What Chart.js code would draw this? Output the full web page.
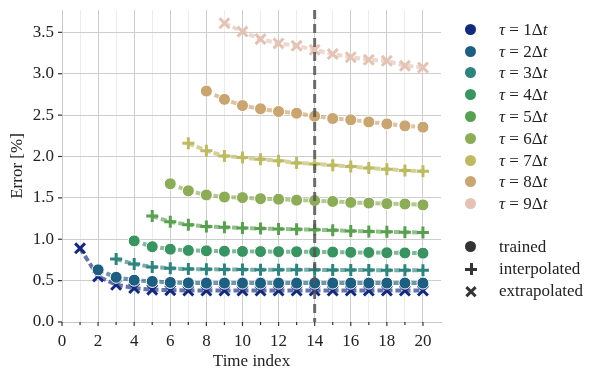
<!DOCTYPE html>
<html>
<head>
<meta charset="utf-8">
<script src="https://cdn.jsdelivr.net/npm/chart.js@4.4.1/dist/chart.umd.min.js"></script>
<style>
body{margin:0;background:#fff;}
#wrap{position:relative;width:601px;height:379px;}
#legend{position:absolute;left:0;top:0;width:601px;height:379px;pointer-events:none;font-family:"Liberation Serif",serif;font-size:17px;color:#222;}
.item{position:absolute;left:460px;height:20px;line-height:20px;white-space:nowrap;}
.item span.txt{position:absolute;left:39px;top:0;}
.mk{position:absolute;left:5px;top:4px;width:12px;height:12px;}
.dot{border-radius:50%;width:11px;height:11px;}
.bar{position:absolute;background:#333;}
</style>
</head>
<body>
<div id="wrap">
<canvas id="chart" width="601" height="379"></canvas>
<div id="legend"></div>
</div>
<script>

// time index of every step
const times=[1,2,3,4,5,6,7,8,9,10,11,12,13,14,15,16,17,18,19,20];

// tau values (in steps of delta t), each series starts at time index = tau
const taus=[1,2,3,4,5,6,7,8,9];

const tau1=[0.89,0.55,0.45,0.41,0.39,0.385,0.38,0.38,0.38,0.38,0.38,0.38,0.38,0.38,0.38,0.38,0.38,0.38,0.38,0.38];
const tau2=[0.63,0.54,0.505,0.49,0.478,0.472,0.47,0.47,0.47,0.47,0.47,0.47,0.47,0.47,0.47,0.47,0.47,0.47,0.47];
const tau3=[0.76,0.70,0.665,0.648,0.64,0.637,0.635,0.633,0.632,0.631,0.63,0.63,0.629,0.628,0.627,0.626,0.625,0.624];
const tau4=[0.98,0.91,0.88,0.865,0.86,0.856,0.853,0.851,0.85,0.849,0.847,0.845,0.842,0.84,0.837,0.835,0.832];
const tau5=[1.28,1.21,1.175,1.155,1.145,1.135,1.13,1.125,1.12,1.115,1.11,1.10,1.095,1.09,1.085,1.08];
const tau6=[1.67,1.585,1.535,1.51,1.503,1.49,1.484,1.472,1.467,1.457,1.445,1.437,1.43,1.426,1.415];
const tau7=[2.16,2.07,2.005,1.987,1.967,1.947,1.922,1.91,1.895,1.878,1.86,1.847,1.832,1.822];
const tau8=[2.79,2.69,2.615,2.576,2.543,2.523,2.487,2.459,2.443,2.418,2.394,2.37,2.354];
const tau9=[3.61,3.51,3.418,3.366,3.337,3.289,3.237,3.2,3.168,3.156,3.096,3.075];

const series=[tau1,tau2,tau3,tau4,tau5,tau6,tau7,tau8,tau9];

// which kind of point each tau is
const kinds=["extrapolated","trained","interpolated","trained","interpolated","trained","interpolated","trained","extrapolated"];
const kindNames=["trained","interpolated","extrapolated"];

const colors=["#13297b","#1e5e80","#2e837c","#3a9462","#58a04f","#8cac58","#bdba63","#c9a571","#e4c2b4"];

// last trained time index
const splitTime=14;

const yTicks=[0,0.5,1,1.5,2,2.5,3,3.5];

const pointStyles={trained:"circle",interpolated:"cross",extrapolated:"crossRot"};

function fade(hex,a){
let r=parseInt(hex.slice(1,3),16),g=parseInt(hex.slice(3,5),16),b=parseInt(hex.slice(5,7),16);
return "rgba("+r+","+g+","+b+","+a+")";
}

let datasets=series.map((vals,i)=>{
let start=taus[i];
let kind=kinds[i];
let style=pointStyles[kind];
return {
label:"τ = "+taus[i]+"Δt",
data:vals.map((v,j)=>({x:times[start-1+j],y:v})),
borderColor:fade(colors[i],0.65),
borderWidth:4,
borderDash:[6,3],
tension:0,
fill:false,
order:9-i,
pointStyle:style,
pointRadius:style=="circle"?6:(style=="cross"?6:7),
pointHoverRadius:6,
pointBackgroundColor:colors[i],
pointBorderColor:style=="circle"?"#ffffff":colors[i],
pointBorderWidth:style=="circle"?1:3
};
});

const font={family:"'Liberation Serif', serif",size:17};

// little tick marks, long at the labelled ones
const tickMarks={
id:"tickMarks",
afterDraw(c){
let ctx=c.ctx,a=c.chartArea,xs=c.scales.x,ys=c.scales.y;
ctx.save();
ctx.strokeStyle="#333";
ctx.lineWidth=1.2;
xs.ticks.forEach(t=>{
let px=xs.getPixelForValue(t.value);
let len=t.value%2==0?4:3;
ctx.beginPath();ctx.moveTo(px,a.bottom);ctx.lineTo(px,a.bottom+len);ctx.stroke();
});
ys.ticks.forEach(t=>{
let py=ys.getPixelForValue(t.value);
ctx.beginPath();ctx.moveTo(a.left-4,py);ctx.lineTo(a.left,py);ctx.stroke();
});
ctx.restore();
}
};

const splitLine={
id:"splitLine",
afterDatasetsDraw(c){
let ctx=c.ctx,a=c.chartArea;
let px=c.scales.x.getPixelForValue(splitTime);
ctx.save();
ctx.strokeStyle="rgba(85,85,85,0.85)";
ctx.lineWidth=3;
ctx.setLineDash([9,5]);
ctx.beginPath();ctx.moveTo(px,a.top);ctx.lineTo(px,a.bottom);ctx.stroke();
ctx.restore();
}
};

new Chart(document.getElementById("chart"),{
type:"line",
data:{datasets:datasets},
options:{
responsive:false,
animation:false,
layout:{padding:{left:0,right:160,top:10,bottom:0}},
plugins:{legend:{display:false},tooltip:{enabled:false}},
scales:{
x:{
type:"linear",
min:0,
max:21,
afterBuildTicks(s){s.ticks=[0].concat(times).map(v=>({value:v}));},
afterFit(s){s.height=57;s.paddingLeft=0;s.paddingRight=0;},
ticks:{font:font,color:"#222",padding:9,maxRotation:0,autoSkip:false,
callback:v=>v%2==0?String(v):""},
grid:{drawTicks:false,color:ctx=>ctx.tick&&ctx.tick.value%2==0?"#cdcdcd":"#ececec",lineWidth:1},
border:{color:"#c8c8c8"},
title:{display:true,text:"Time index",font:{family:"'Liberation Serif', serif",size:17},color:"#222",padding:{top:0,bottom:7}}
},
y:{
min:0,
max:3.77,
afterBuildTicks(s){s.ticks=yTicks.map(v=>({value:v}));},
afterFit(s){s.width=62;s.paddingTop=0;s.paddingBottom=0;},
ticks:{font:font,color:"#222",padding:8,callback:v=>v.toFixed(1)},
grid:{drawTicks:false,color:"#cdcdcd",lineWidth:1},
border:{color:"#c8c8c8"},
title:{display:true,text:"Error [%]",font:{family:"'Liberation Serif', serif",size:17},color:"#222",padding:{top:7,bottom:0}}
}
}
},
plugins:[tickMarks,splitLine]
});

// legend on the right
let legend=document.getElementById("legend");
let rowY=29.7;
taus.forEach((t,i)=>{
let d=document.createElement("div");
d.className="item";
d.style.top=(rowY+i*21.8-10)+"px";
d.innerHTML="<div class='mk dot' style='background:"+colors[i]+"'></div><span class='txt'><i>τ</i> = "+t+"Δ<i>t</i></span>";
legend.appendChild(d);
});
kindNames.forEach((k,i)=>{
let d=document.createElement("div");
d.className="item";
d.style.top=(247.3+i*21.8-10)+"px";
let mk;
if(k=="trained") mk="<div class='mk dot' style='background:#333'></div>";
else if(k=="interpolated") mk="<div class='mk'><div class='bar' style='left:0;top:4.5px;width:12px;height:3px'></div><div class='bar' style='left:4.5px;top:0;width:3px;height:12px'></div></div>";
else mk="<div class='mk' style='transform:rotate(45deg)'><div class='bar' style='left:0;top:4.5px;width:13px;height:3px'></div><div class='bar' style='left:5px;top:-0.5px;width:3px;height:13px'></div></div>";
d.innerHTML=mk+"<span class='txt'>"+k+"</span>";
legend.appendChild(d);
});

</script>
</body>
</html>
